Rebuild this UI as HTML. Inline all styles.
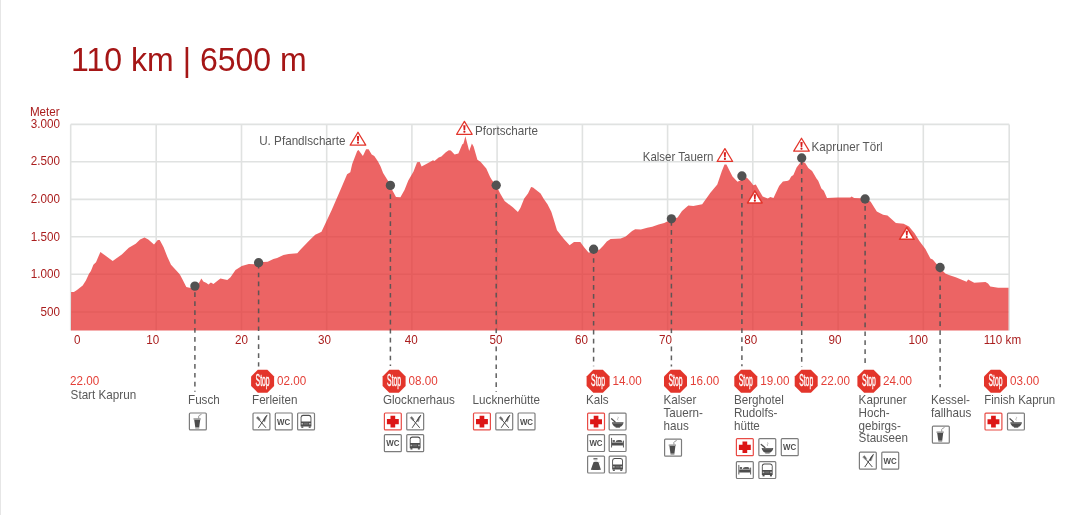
<!DOCTYPE html>
<html lang="de"><head><meta charset="utf-8"><title>110 km | 6500 m</title>
<style>html,body{margin:0;padding:0;background:#fff;}body{width:1080px;height:515px;overflow:hidden;position:relative;}svg{display:block;position:absolute;left:0;top:0;}text{font-family:"Liberation Sans", sans-serif;}</style></head><body>
<svg width="1080" height="515" viewBox="0 0 1080 515">
<rect x="0" y="0" width="1" height="515" fill="#e6e6e6"/>
<text transform="translate(71.10,71.00) scale(0.98,1)" font-size="32.7" fill="#a51616">110 km | 6500 m</text>
<text transform="translate(29.90,115.80) scale(0.95,1)" font-size="12.3" fill="#aa1e1e">Meter</text>
<text transform="translate(59.90,127.50) scale(0.95,1)" font-size="12.3" fill="#aa1e1e" text-anchor="end">3.000</text>
<text transform="translate(59.90,165.10) scale(0.95,1)" font-size="12.3" fill="#aa1e1e" text-anchor="end">2.500</text>
<text transform="translate(59.90,203.20) scale(0.95,1)" font-size="12.3" fill="#aa1e1e" text-anchor="end">2.000</text>
<text transform="translate(59.90,240.80) scale(0.95,1)" font-size="12.3" fill="#aa1e1e" text-anchor="end">1.500</text>
<text transform="translate(59.90,278.40) scale(0.95,1)" font-size="12.3" fill="#aa1e1e" text-anchor="end">1.000</text>
<text transform="translate(59.90,315.60) scale(0.95,1)" font-size="12.3" fill="#aa1e1e" text-anchor="end">500</text>
<g stroke="#e0e2e1" stroke-width="1.6" fill="none"><path d="M70.7 124.4H1009.2"/><path d="M70.7 161.8H1009.2"/><path d="M70.7 199.4H1009.2"/><path d="M70.7 236.8H1009.2"/><path d="M70.7 274.3H1009.2"/><path d="M70.7 312.0H1009.2"/><path d="M70.7 124.4V330.4"/><path d="M156.2 124.4V330.4"/><path d="M241.5 124.4V330.4"/><path d="M326.7 124.4V330.4"/><path d="M411.9 124.4V330.4"/><path d="M497.1 124.4V330.4"/><path d="M582.4 124.4V330.4"/><path d="M667.6 124.4V330.4"/><path d="M752.8 124.4V330.4"/><path d="M838.1 124.4V330.4"/><path d="M923.3 124.4V330.4"/><path d="M1009.2 124.4V330.4"/></g>
<path d="M71.0 330.4L71.1 292.0L73.9 292.0L77.0 290.0L82.7 285.4L85.9 280.5L89.0 273.7L90.9 271.0L93.4 264.7L96.0 262.2L100.4 251.9L112.7 261.0L121.8 254.6L128.8 247.7L135.7 243.7L140.1 239.5L144.5 237.4L148.3 239.5L154.0 244.6L157.8 239.9L159.7 239.9L163.5 247.1L167.2 256.5L171.0 264.7L178.6 273.0L180.0 274.7L182.4 279.3L186.3 287.0L190.7 287.9L194.9 286.5L198.9 282.9L201.4 278.5L203.3 281.6L206.5 282.9L208.4 284.4L210.9 282.6L213.4 283.9L220.4 278.5L227.3 280.1L230.5 277.2L235.5 270.0L241.8 265.9L248.8 264.0L254.4 264.2L258.6 262.9L263.3 262.1L267.7 261.7L273.4 258.9L277.1 257.9L283.5 254.9L288.5 253.9L297.3 253.2L300.1 250.0L309.5 240.3L315.2 234.8L319.0 232.9L321.5 231.7L331.6 210.2L340.4 190.0L347.1 174.2L350.3 172.3L352.2 164.1L357.2 150.9L358.5 149.9L362.9 155.9L366.1 149.2L368.6 149.2L371.7 154.6L374.3 155.9L378.0 161.6L380.6 166.6L383.1 172.9L388.1 181.1L390.4 185.4L392.2 190.0L396.0 197.0L400.4 197.2L404.5 190.0L408.3 180.5L413.4 171.7L417.1 162.2L419.7 162.0L421.6 166.4L427.2 163.5L431.7 161.0L433.0 160.2L434.5 161.0L438.7 157.4L441.4 156.6L445.8 152.2L448.8 150.2L450.8 150.6L454.6 154.4L458.4 153.5L462.2 144.6L463.5 143.4L465.4 136.2L469.2 151.0L471.9 143.4L473.6 146.5L477.4 159.8L480.5 161.7L483.7 165.5L486.3 168.4L490.1 177.0L491.9 180.0L496.2 185.5L500.2 193.4L504.6 201.0L512.8 207.3L517.9 212.0L520.4 207.9L524.2 198.5L528.0 193.4L531.1 187.1L533.0 187.5L540.6 193.4L543.8 199.1L547.5 204.2L551.3 211.7L553.2 217.7L557.0 230.3L563.9 239.1L569.6 245.2L574.0 242.0L580.3 242.0L584.1 247.3L588.5 252.4L592.0 252.3L599.3 249.8L603.0 246.1L606.8 241.6L610.6 239.1L620.7 238.5L625.7 236.6L632.1 230.9L635.2 229.3L640.9 229.6L647.2 227.8L652.2 226.7L658.6 224.6L664.2 223.0L671.4 219.5L677.6 217.4L682.0 211.1L688.3 205.4L693.3 206.1L702.2 204.2L710.4 192.8L717.3 184.6L721.7 171.4L724.5 164.4L726.4 164.4L732.5 176.4L737.5 181.7L740.0 180.5L743.5 177.0L747.0 177.7L750.7 181.7L753.3 185.2L755.8 184.6L758.3 189.0L762.7 196.6L767.8 198.5L770.3 197.0L773.5 197.9L779.1 185.9L782.9 181.4L788.0 180.8L789.4 179.8L791.2 176.5L793.4 175.0L796.6 167.4L800.8 162.0L802.5 161.7L805.2 163.1L808.3 167.9L812.1 171.0L816.5 178.6L818.2 180.7L821.4 188.4L823.8 190.8L827.0 198.0L837.7 197.5L850.3 197.5L851.6 196.4L854.1 198.1L860.4 198.3L865.1 199.3L870.5 201.5L876.8 211.6L883.1 214.7L887.5 215.6L895.9 222.9L903.6 223.7L909.0 226.5L914.4 233.1L919.4 241.0L925.4 249.1L930.4 258.5L932.7 259.6L940.1 268.0L945.3 273.5L948.9 274.9L955.7 277.2L966.6 281.7L968.1 279.6L974.2 282.8L985.5 282.1L988.0 283.4L990.3 286.5L998.1 287.8L1008.5 287.8L1008.5 330.4Z" fill="rgba(230,48,48,0.75)"/>
<path d="M194.9 283.3V391.8" stroke="#525252" stroke-width="1.5" stroke-dasharray="4.7 4.26" fill="none" opacity="0.92"/>
<circle cx="194.9" cy="286.1" r="4.65" fill="#525252"/>
<path d="M258.6 263.7V366.4" stroke="#525252" stroke-width="1.5" stroke-dasharray="4.7 4.26" fill="none" opacity="0.92"/>
<circle cx="258.6" cy="262.7" r="4.65" fill="#525252"/>
<path d="M390.4 185.4V366.0" stroke="#525252" stroke-width="1.5" stroke-dasharray="4.7 4.26" fill="none" opacity="0.92"/>
<circle cx="390.4" cy="185.4" r="4.65" fill="#525252"/>
<path d="M496.2 185.2V391.9" stroke="#525252" stroke-width="1.5" stroke-dasharray="4.7 4.26" fill="none" opacity="0.92"/>
<circle cx="496.2" cy="185.2" r="4.65" fill="#525252"/>
<path d="M593.6 249.2V366.2" stroke="#525252" stroke-width="1.5" stroke-dasharray="4.7 4.26" fill="none" opacity="0.92"/>
<circle cx="593.6" cy="249.2" r="4.65" fill="#525252"/>
<path d="M671.4 221.1V366.5" stroke="#525252" stroke-width="1.5" stroke-dasharray="4.7 4.26" fill="none" opacity="0.92"/>
<circle cx="671.4" cy="218.8" r="4.65" fill="#525252"/>
<path d="M741.9 176.0V366.2" stroke="#525252" stroke-width="1.5" stroke-dasharray="4.7 4.26" fill="none" opacity="0.92"/>
<circle cx="741.9" cy="176.0" r="4.65" fill="#525252"/>
<path d="M801.7 160.0V366.4" stroke="#525252" stroke-width="1.5" stroke-dasharray="4.7 4.26" fill="none" opacity="0.92"/>
<circle cx="801.7" cy="158.0" r="4.65" fill="#525252"/>
<path d="M865.1 197.0V366.4" stroke="#525252" stroke-width="1.5" stroke-dasharray="4.7 4.26" fill="none" opacity="0.92"/>
<circle cx="865.1" cy="199.0" r="4.65" fill="#525252"/>
<path d="M940.1 267.5V387.3" stroke="#525252" stroke-width="1.5" stroke-dasharray="4.7 4.26" fill="none" opacity="0.92"/>
<circle cx="940.1" cy="267.5" r="4.65" fill="#525252"/>
<text transform="translate(73.90,343.50) scale(0.95,1)" font-size="12.3" fill="#aa1e1e">0</text>
<text transform="translate(146.30,343.50) scale(0.95,1)" font-size="12.3" fill="#aa1e1e">10</text>
<text transform="translate(235.10,343.50) scale(0.95,1)" font-size="12.3" fill="#aa1e1e">20</text>
<text transform="translate(318.10,343.50) scale(0.95,1)" font-size="12.3" fill="#aa1e1e">30</text>
<text transform="translate(404.80,343.50) scale(0.95,1)" font-size="12.3" fill="#aa1e1e">40</text>
<rect x="489.1" y="333.5" width="14.5" height="12" fill="#fff"/>
<text transform="translate(489.60,343.50) scale(0.95,1)" font-size="12.3" fill="#aa1e1e">50</text>
<text transform="translate(574.90,343.50) scale(0.95,1)" font-size="12.3" fill="#aa1e1e">60</text>
<rect x="658.5" y="333.5" width="14.5" height="12" fill="#fff"/>
<text transform="translate(659.00,343.50) scale(0.95,1)" font-size="12.3" fill="#aa1e1e">70</text>
<text transform="translate(744.30,343.50) scale(0.95,1)" font-size="12.3" fill="#aa1e1e">80</text>
<text transform="translate(828.50,343.50) scale(0.95,1)" font-size="12.3" fill="#aa1e1e">90</text>
<text transform="translate(908.40,343.50) scale(0.95,1)" font-size="12.3" fill="#aa1e1e">100</text>
<text transform="translate(983.70,343.50) scale(0.95,1)" font-size="12.3" fill="#aa1e1e">110 km</text>
<path d="M358.00 132.28L365.77 145.18H350.23Z" fill="#fff" stroke="#e3352b" stroke-width="1.25" stroke-linejoin="round"/><path d="M356.85 136.07h2.3l-0.4 4.97h-1.5z" fill="#d81e1e"/><circle cx="358.00" cy="142.66" r="1.1" fill="#d41616"/>
<path d="M464.40 121.38L472.17 134.28H456.62Z" fill="#fff" stroke="#e3352b" stroke-width="1.25" stroke-linejoin="round"/><path d="M463.25 125.17h2.3l-0.4 4.97h-1.5z" fill="#d81e1e"/><circle cx="464.40" cy="131.76" r="1.1" fill="#d41616"/>
<path d="M724.90 148.57L732.67 161.47H717.12Z" fill="#fff" stroke="#e3352b" stroke-width="1.25" stroke-linejoin="round"/><path d="M723.75 152.37h2.3l-0.4 4.97h-1.5z" fill="#d81e1e"/><circle cx="724.90" cy="158.96" r="1.1" fill="#d41616"/>
<path d="M801.50 138.28L809.27 151.18H793.73Z" fill="#fff" stroke="#e3352b" stroke-width="1.25" stroke-linejoin="round"/><path d="M800.35 142.07h2.3l-0.4 4.97h-1.5z" fill="#d81e1e"/><circle cx="801.50" cy="148.66" r="1.1" fill="#d41616"/>
<path d="M754.85 190.90L762.15 202.95H747.55Z" fill="#fff" stroke="#e3352b" stroke-width="1.5" stroke-linejoin="round"/><path d="M753.70 194.37h2.3l-0.4 4.76h-1.5z" fill="#d81e1e"/><circle cx="754.85" cy="200.69" r="1.1" fill="#d41616"/>
<path d="M906.80 227.30L914.10 239.35H899.50Z" fill="#fff" stroke="#e3352b" stroke-width="1.5" stroke-linejoin="round"/><path d="M905.65 230.77h2.3l-0.4 4.76h-1.5z" fill="#d81e1e"/><circle cx="906.80" cy="237.09" r="1.1" fill="#d41616"/>
<text transform="translate(345.50,144.60) scale(0.95,1)" font-size="12.3" fill="#585858" text-anchor="end">U. Pfandlscharte</text>
<text transform="translate(475.00,135.20) scale(0.95,1)" font-size="12.3" fill="#585858">Pfortscharte</text>
<text transform="translate(713.40,161.40) scale(0.935,1)" font-size="12.3" fill="#585858" text-anchor="end">Kalser Tauern</text>
<text transform="translate(811.50,150.80) scale(0.95,1)" font-size="12.3" fill="#585858">Kapruner Törl</text>
<text transform="translate(70.10,384.80) scale(0.95,1)" font-size="12.3" fill="#e43f37">22.00</text>
<text transform="translate(70.60,398.50) scale(0.95,1)" font-size="12.3" fill="#585858">Start Kaprun</text>
<text transform="translate(188.00,404.00) scale(0.95,1)" font-size="12.3" fill="#585858">Fusch</text>
<rect x="189.40" y="413.00" width="16.9" height="16.9" rx="0.9" fill="#fff" stroke="#7c7c7c" stroke-width="1.2"/><g transform="translate(188.80,412.40)"><rect x="4.7" y="5.9" width="7.3" height="1.3" fill="#8a8a8a"/><path d="M5.4 7.3H11.4L10.4 15.1H6.5Z" fill="#4d4d4d"/><rect x="6.5" y="15.1" width="3.9" height="1.1" fill="#9a9a9a"/><path d="M9.9 6.0V3.8Q10.0 3.0 12.7 1.9" stroke="#7a7a7a" stroke-width="0.8" fill="none"/></g>
<polygon points="257.84,369.70 267.36,369.70 274.10,376.44 274.10,385.96 267.36,392.70 257.84,392.70 251.10,385.96 251.10,376.44" fill="#e3352b"/><text x="262.60" y="386.20" text-anchor="middle" font-family='"Liberation Sans", sans-serif' font-size="16.2" fill="#fff" stroke="#fff" stroke-width="0.4" textLength="14" lengthAdjust="spacingAndGlyphs">Stop</text>
<text transform="translate(277.10,384.80) scale(0.95,1)" font-size="12.3" fill="#e43f37">02.00</text>
<text transform="translate(252.00,404.00) scale(0.95,1)" font-size="12.3" fill="#585858">Ferleiten</text>
<rect x="253.00" y="413.00" width="16.9" height="16.9" rx="0.9" fill="#fff" stroke="#7c7c7c" stroke-width="1.2"/><g transform="translate(252.40,412.40)" stroke="#4d4d4d" fill="none" stroke-linecap="round"><path d="M5.6 6.0L13.3 15.1" stroke-width="1.0"/><path d="M14.3 3.2L6.2 15.1" stroke-width="1.0"/><path d="M14.5 2.9C12.6 4.4 11.2 6.6 10.9 8.7L12.0 9.2Z" fill="#4d4d4d" stroke-width="0.4"/><path d="M4.0 5.4L5.6 4.0L7.9 6.9L6.9 8.0Z" fill="#6a6a6a" stroke="#6a6a6a" stroke-width="0.3"/></g>
<rect x="275.30" y="413.00" width="16.9" height="16.9" rx="0.9" fill="#fff" stroke="#7c7c7c" stroke-width="1.2"/><text x="283.70" y="424.50" text-anchor="middle" font-family='"Liberation Sans", sans-serif' font-weight="700" font-size="8.3" fill="#4d4d4d" textLength="13.2" lengthAdjust="spacingAndGlyphs">WC</text>
<rect x="297.60" y="413.00" width="16.9" height="16.9" rx="0.9" fill="#fff" stroke="#7c7c7c" stroke-width="1.2"/><g transform="translate(297.00,412.40)"><path d="M3.6 5.0Q3.6 2.7 5.9 2.4L12.1 2.4Q14.4 2.7 14.4 5.0V14.1H3.6Z" fill="#4d4d4d"/><path d="M4.5 5.3Q4.5 3.6 6.2 3.6H11.8Q13.5 3.6 13.5 5.3V9.0H4.5Z" fill="#fff"/><rect x="4.4" y="10.6" width="1.7" height="1.5" fill="#b4b4b4"/><rect x="11.9" y="10.6" width="1.7" height="1.5" fill="#b4b4b4"/><rect x="6.9" y="10.3" width="4.2" height="2.0" fill="#6c6c6c"/><rect x="4.3" y="14.0" width="2.0" height="1.4" fill="#4d4d4d"/><rect x="11.7" y="14.0" width="2.0" height="1.4" fill="#4d4d4d"/></g>
<polygon points="389.34,369.70 398.86,369.70 405.60,376.44 405.60,385.96 398.86,392.70 389.34,392.70 382.60,385.96 382.60,376.44" fill="#e3352b"/><text x="394.10" y="386.20" text-anchor="middle" font-family='"Liberation Sans", sans-serif' font-size="16.2" fill="#fff" stroke="#fff" stroke-width="0.4" textLength="14" lengthAdjust="spacingAndGlyphs">Stop</text>
<text transform="translate(408.60,384.80) scale(0.95,1)" font-size="12.3" fill="#e43f37">08.00</text>
<text transform="translate(382.90,404.00) scale(0.95,1)" font-size="12.3" fill="#585858">Glocknerhaus</text>
<rect x="384.40" y="413.00" width="16.9" height="16.9" rx="0.9" fill="#fff" stroke="#e84b45" stroke-width="1.2"/><path transform="translate(383.80,412.40)" d="M6.7 3.3h4.7v3.4h3.6v5.1h-3.6v3.2h-4.7v-3.2h-3.6v-5.1h3.6z" fill="#dc1616"/>
<rect x="406.75" y="413.00" width="16.9" height="16.9" rx="0.9" fill="#fff" stroke="#7c7c7c" stroke-width="1.2"/><g transform="translate(406.15,412.40)" stroke="#4d4d4d" fill="none" stroke-linecap="round"><path d="M5.6 6.0L13.3 15.1" stroke-width="1.0"/><path d="M14.3 3.2L6.2 15.1" stroke-width="1.0"/><path d="M14.5 2.9C12.6 4.4 11.2 6.6 10.9 8.7L12.0 9.2Z" fill="#4d4d4d" stroke-width="0.4"/><path d="M4.0 5.4L5.6 4.0L7.9 6.9L6.9 8.0Z" fill="#6a6a6a" stroke="#6a6a6a" stroke-width="0.3"/></g>
<rect x="384.40" y="434.70" width="16.9" height="16.9" rx="0.9" fill="#fff" stroke="#7c7c7c" stroke-width="1.2"/><text x="392.80" y="446.20" text-anchor="middle" font-family='"Liberation Sans", sans-serif' font-weight="700" font-size="8.3" fill="#4d4d4d" textLength="13.2" lengthAdjust="spacingAndGlyphs">WC</text>
<rect x="406.75" y="434.70" width="16.9" height="16.9" rx="0.9" fill="#fff" stroke="#7c7c7c" stroke-width="1.2"/><g transform="translate(406.15,434.10)"><path d="M3.6 5.0Q3.6 2.7 5.9 2.4L12.1 2.4Q14.4 2.7 14.4 5.0V14.1H3.6Z" fill="#4d4d4d"/><path d="M4.5 5.3Q4.5 3.6 6.2 3.6H11.8Q13.5 3.6 13.5 5.3V9.0H4.5Z" fill="#fff"/><rect x="4.4" y="10.6" width="1.7" height="1.5" fill="#b4b4b4"/><rect x="11.9" y="10.6" width="1.7" height="1.5" fill="#b4b4b4"/><rect x="6.9" y="10.3" width="4.2" height="2.0" fill="#6c6c6c"/><rect x="4.3" y="14.0" width="2.0" height="1.4" fill="#4d4d4d"/><rect x="11.7" y="14.0" width="2.0" height="1.4" fill="#4d4d4d"/></g>
<text transform="translate(472.60,404.00) scale(0.95,1)" font-size="12.3" fill="#585858">Lucknerhütte</text>
<rect x="473.50" y="413.00" width="16.9" height="16.9" rx="0.9" fill="#fff" stroke="#e84b45" stroke-width="1.2"/><path transform="translate(472.90,412.40)" d="M6.7 3.3h4.7v3.4h3.6v5.1h-3.6v3.2h-4.7v-3.2h-3.6v-5.1h3.6z" fill="#dc1616"/>
<rect x="495.80" y="413.00" width="16.9" height="16.9" rx="0.9" fill="#fff" stroke="#7c7c7c" stroke-width="1.2"/><g transform="translate(495.20,412.40)" stroke="#4d4d4d" fill="none" stroke-linecap="round"><path d="M5.6 6.0L13.3 15.1" stroke-width="1.0"/><path d="M14.3 3.2L6.2 15.1" stroke-width="1.0"/><path d="M14.5 2.9C12.6 4.4 11.2 6.6 10.9 8.7L12.0 9.2Z" fill="#4d4d4d" stroke-width="0.4"/><path d="M4.0 5.4L5.6 4.0L7.9 6.9L6.9 8.0Z" fill="#6a6a6a" stroke="#6a6a6a" stroke-width="0.3"/></g>
<rect x="518.10" y="413.00" width="16.9" height="16.9" rx="0.9" fill="#fff" stroke="#7c7c7c" stroke-width="1.2"/><text x="526.50" y="424.50" text-anchor="middle" font-family='"Liberation Sans", sans-serif' font-weight="700" font-size="8.3" fill="#4d4d4d" textLength="13.2" lengthAdjust="spacingAndGlyphs">WC</text>
<polygon points="593.34,369.70 602.86,369.70 609.60,376.44 609.60,385.96 602.86,392.70 593.34,392.70 586.60,385.96 586.60,376.44" fill="#e3352b"/><text x="598.10" y="386.20" text-anchor="middle" font-family='"Liberation Sans", sans-serif' font-size="16.2" fill="#fff" stroke="#fff" stroke-width="0.4" textLength="14" lengthAdjust="spacingAndGlyphs">Stop</text>
<text transform="translate(612.60,384.80) scale(0.95,1)" font-size="12.3" fill="#e43f37">14.00</text>
<text transform="translate(586.00,404.00) scale(0.95,1)" font-size="12.3" fill="#585858">Kals</text>
<rect x="587.60" y="413.10" width="16.9" height="16.9" rx="0.9" fill="#fff" stroke="#e84b45" stroke-width="1.2"/><path transform="translate(587.00,412.50)" d="M6.7 3.3h4.7v3.4h3.6v5.1h-3.6v3.2h-4.7v-3.2h-3.6v-5.1h3.6z" fill="#dc1616"/>
<rect x="609.15" y="413.10" width="16.9" height="16.9" rx="0.9" fill="#fff" stroke="#7c7c7c" stroke-width="1.2"/><g transform="translate(608.55,412.50)"><path d="M3.4 9.8H15.0Q14.6 13.6 11.0 14.6H7.4Q3.8 13.6 3.4 9.8Z" fill="#4d4d4d"/><rect x="7.0" y="14.6" width="4.4" height="0.9" fill="#7a7a7a"/><path d="M4.3 10.7H14.1" stroke="#9a9a9a" stroke-width="0.6"/><path d="M3.0 6.3L6.6 9.4" stroke="#4d4d4d" stroke-width="1.3" stroke-linecap="round"/><path d="M9.3 4.3q0.9 0.9 0 1.7q-0.8 0.8 0.2 1.8" stroke="#8a8a8a" stroke-width="0.6" fill="none"/></g>
<rect x="587.60" y="434.60" width="16.9" height="16.9" rx="0.9" fill="#fff" stroke="#7c7c7c" stroke-width="1.2"/><text x="596.00" y="446.10" text-anchor="middle" font-family='"Liberation Sans", sans-serif' font-weight="700" font-size="8.3" fill="#4d4d4d" textLength="13.2" lengthAdjust="spacingAndGlyphs">WC</text>
<rect x="609.15" y="434.60" width="16.9" height="16.9" rx="0.9" fill="#fff" stroke="#7c7c7c" stroke-width="1.2"/><g transform="translate(608.55,434.00)" fill="#4d4d4d"><rect x="2.6" y="3.9" width="0.9" height="9.6"/><rect x="14.4" y="6.6" width="0.9" height="6.9"/><rect x="3.4" y="9.0" width="11.0" height="2.5"/><rect x="3.5" y="8.0" width="10.9" height="1.0" fill="#9a9a9a"/><rect x="4.0" y="6.0" width="2.3" height="2.0" fill="#666"/><path d="M7.0 8.1Q7.2 5.9 9.6 5.9H12.2Q13.7 6.2 13.9 8.1Z" fill="#5c5c5c"/></g>
<rect x="587.60" y="456.10" width="16.9" height="16.9" rx="0.9" fill="#fff" stroke="#7c7c7c" stroke-width="1.2"/><g transform="translate(587.00,455.50)"><rect x="6.3" y="2.6" width="4.3" height="1.5" rx="0.6" fill="#6e6e6e"/><path d="M6.6 6.5Q9.0 6.1 11.4 6.5L13.9 14.2Q9.0 15.0 3.8 14.2Z" fill="#4d4d4d"/><path d="M7.4 5.3H10.2" stroke="#bbb" stroke-width="0.6"/><rect x="11.6" y="6.3" width="0.9" height="1.0" fill="#aaa"/></g>
<rect x="609.15" y="456.10" width="16.9" height="16.9" rx="0.9" fill="#fff" stroke="#7c7c7c" stroke-width="1.2"/><g transform="translate(608.55,455.50)"><path d="M3.6 5.0Q3.6 2.7 5.9 2.4L12.1 2.4Q14.4 2.7 14.4 5.0V14.1H3.6Z" fill="#4d4d4d"/><path d="M4.5 5.3Q4.5 3.6 6.2 3.6H11.8Q13.5 3.6 13.5 5.3V9.0H4.5Z" fill="#fff"/><rect x="4.4" y="10.6" width="1.7" height="1.5" fill="#b4b4b4"/><rect x="11.9" y="10.6" width="1.7" height="1.5" fill="#b4b4b4"/><rect x="6.9" y="10.3" width="4.2" height="2.0" fill="#6c6c6c"/><rect x="4.3" y="14.0" width="2.0" height="1.4" fill="#4d4d4d"/><rect x="11.7" y="14.0" width="2.0" height="1.4" fill="#4d4d4d"/></g>
<polygon points="670.74,369.70 680.26,369.70 687.00,376.44 687.00,385.96 680.26,392.70 670.74,392.70 664.00,385.96 664.00,376.44" fill="#e3352b"/><text x="675.50" y="386.20" text-anchor="middle" font-family='"Liberation Sans", sans-serif' font-size="16.2" fill="#fff" stroke="#fff" stroke-width="0.4" textLength="14" lengthAdjust="spacingAndGlyphs">Stop</text>
<text transform="translate(690.00,384.80) scale(0.95,1)" font-size="12.3" fill="#e43f37">16.00</text>
<text transform="translate(663.40,404.00) scale(0.95,1)" font-size="12.3" fill="#585858">Kalser</text>
<text transform="translate(663.40,417.40) scale(0.95,1)" font-size="12.3" fill="#585858">Tauern-</text>
<text transform="translate(663.40,429.80) scale(0.95,1)" font-size="12.3" fill="#585858">haus</text>
<rect x="664.60" y="439.20" width="16.9" height="16.9" rx="0.9" fill="#fff" stroke="#7c7c7c" stroke-width="1.2"/><g transform="translate(664.00,438.60)"><rect x="4.7" y="5.9" width="7.3" height="1.3" fill="#8a8a8a"/><path d="M5.4 7.3H11.4L10.4 15.1H6.5Z" fill="#4d4d4d"/><rect x="6.5" y="15.1" width="3.9" height="1.1" fill="#9a9a9a"/><path d="M9.9 6.0V3.8Q10.0 3.0 12.7 1.9" stroke="#7a7a7a" stroke-width="0.8" fill="none"/></g>
<polygon points="741.04,369.70 750.56,369.70 757.30,376.44 757.30,385.96 750.56,392.70 741.04,392.70 734.30,385.96 734.30,376.44" fill="#e3352b"/><text x="745.80" y="386.20" text-anchor="middle" font-family='"Liberation Sans", sans-serif' font-size="16.2" fill="#fff" stroke="#fff" stroke-width="0.4" textLength="14" lengthAdjust="spacingAndGlyphs">Stop</text>
<text transform="translate(760.30,384.80) scale(0.95,1)" font-size="12.3" fill="#e43f37">19.00</text>
<text transform="translate(733.90,404.00) scale(0.95,1)" font-size="12.3" fill="#585858">Berghotel</text>
<text transform="translate(733.90,417.40) scale(0.95,1)" font-size="12.3" fill="#585858">Rudolfs-</text>
<text transform="translate(733.90,429.80) scale(0.95,1)" font-size="12.3" fill="#585858">hütte</text>
<rect x="736.40" y="438.70" width="16.9" height="16.9" rx="0.9" fill="#fff" stroke="#e84b45" stroke-width="1.2"/><path transform="translate(735.80,438.10)" d="M6.7 3.3h4.7v3.4h3.6v5.1h-3.6v3.2h-4.7v-3.2h-3.6v-5.1h3.6z" fill="#dc1616"/>
<rect x="758.85" y="438.70" width="16.9" height="16.9" rx="0.9" fill="#fff" stroke="#7c7c7c" stroke-width="1.2"/><g transform="translate(758.25,438.10)"><path d="M3.4 9.8H15.0Q14.6 13.6 11.0 14.6H7.4Q3.8 13.6 3.4 9.8Z" fill="#4d4d4d"/><rect x="7.0" y="14.6" width="4.4" height="0.9" fill="#7a7a7a"/><path d="M4.3 10.7H14.1" stroke="#9a9a9a" stroke-width="0.6"/><path d="M3.0 6.3L6.6 9.4" stroke="#4d4d4d" stroke-width="1.3" stroke-linecap="round"/><path d="M9.3 4.3q0.9 0.9 0 1.7q-0.8 0.8 0.2 1.8" stroke="#8a8a8a" stroke-width="0.6" fill="none"/></g>
<rect x="781.30" y="438.70" width="16.9" height="16.9" rx="0.9" fill="#fff" stroke="#7c7c7c" stroke-width="1.2"/><text x="789.70" y="450.20" text-anchor="middle" font-family='"Liberation Sans", sans-serif' font-weight="700" font-size="8.3" fill="#4d4d4d" textLength="13.2" lengthAdjust="spacingAndGlyphs">WC</text>
<rect x="736.40" y="461.60" width="16.9" height="16.9" rx="0.9" fill="#fff" stroke="#7c7c7c" stroke-width="1.2"/><g transform="translate(735.80,461.00)" fill="#4d4d4d"><rect x="2.6" y="3.9" width="0.9" height="9.6"/><rect x="14.4" y="6.6" width="0.9" height="6.9"/><rect x="3.4" y="9.0" width="11.0" height="2.5"/><rect x="3.5" y="8.0" width="10.9" height="1.0" fill="#9a9a9a"/><rect x="4.0" y="6.0" width="2.3" height="2.0" fill="#666"/><path d="M7.0 8.1Q7.2 5.9 9.6 5.9H12.2Q13.7 6.2 13.9 8.1Z" fill="#5c5c5c"/></g>
<rect x="758.85" y="461.60" width="16.9" height="16.9" rx="0.9" fill="#fff" stroke="#7c7c7c" stroke-width="1.2"/><g transform="translate(758.25,461.00)"><path d="M3.6 5.0Q3.6 2.7 5.9 2.4L12.1 2.4Q14.4 2.7 14.4 5.0V14.1H3.6Z" fill="#4d4d4d"/><path d="M4.5 5.3Q4.5 3.6 6.2 3.6H11.8Q13.5 3.6 13.5 5.3V9.0H4.5Z" fill="#fff"/><rect x="4.4" y="10.6" width="1.7" height="1.5" fill="#b4b4b4"/><rect x="11.9" y="10.6" width="1.7" height="1.5" fill="#b4b4b4"/><rect x="6.9" y="10.3" width="4.2" height="2.0" fill="#6c6c6c"/><rect x="4.3" y="14.0" width="2.0" height="1.4" fill="#4d4d4d"/><rect x="11.7" y="14.0" width="2.0" height="1.4" fill="#4d4d4d"/></g>
<polygon points="801.44,369.70 810.96,369.70 817.70,376.44 817.70,385.96 810.96,392.70 801.44,392.70 794.70,385.96 794.70,376.44" fill="#e3352b"/><text x="806.20" y="386.20" text-anchor="middle" font-family='"Liberation Sans", sans-serif' font-size="16.2" fill="#fff" stroke="#fff" stroke-width="0.4" textLength="14" lengthAdjust="spacingAndGlyphs">Stop</text>
<text transform="translate(820.70,384.80) scale(0.95,1)" font-size="12.3" fill="#e43f37">22.00</text>
<polygon points="864.14,369.70 873.66,369.70 880.40,376.44 880.40,385.96 873.66,392.70 864.14,392.70 857.40,385.96 857.40,376.44" fill="#e3352b"/><text x="868.90" y="386.20" text-anchor="middle" font-family='"Liberation Sans", sans-serif' font-size="16.2" fill="#fff" stroke="#fff" stroke-width="0.4" textLength="14" lengthAdjust="spacingAndGlyphs">Stop</text>
<text transform="translate(882.90,384.80) scale(0.95,1)" font-size="12.3" fill="#e43f37">24.00</text>
<text transform="translate(858.60,404.00) scale(0.95,1)" font-size="12.3" fill="#585858">Kapruner</text>
<text transform="translate(858.60,417.40) scale(0.95,1)" font-size="12.3" fill="#585858">Hoch-</text>
<text transform="translate(858.60,429.80) scale(0.95,1)" font-size="12.3" fill="#585858">gebirgs-</text>
<text transform="translate(858.60,442.40) scale(0.95,1)" font-size="12.3" fill="#585858">Stauseen</text>
<rect x="859.40" y="452.20" width="16.9" height="16.9" rx="0.9" fill="#fff" stroke="#7c7c7c" stroke-width="1.2"/><g transform="translate(858.80,451.60)" stroke="#4d4d4d" fill="none" stroke-linecap="round"><path d="M5.6 6.0L13.3 15.1" stroke-width="1.0"/><path d="M14.3 3.2L6.2 15.1" stroke-width="1.0"/><path d="M14.5 2.9C12.6 4.4 11.2 6.6 10.9 8.7L12.0 9.2Z" fill="#4d4d4d" stroke-width="0.4"/><path d="M4.0 5.4L5.6 4.0L7.9 6.9L6.9 8.0Z" fill="#6a6a6a" stroke="#6a6a6a" stroke-width="0.3"/></g>
<rect x="881.80" y="452.20" width="16.9" height="16.9" rx="0.9" fill="#fff" stroke="#7c7c7c" stroke-width="1.2"/><text x="890.20" y="463.70" text-anchor="middle" font-family='"Liberation Sans", sans-serif' font-weight="700" font-size="8.3" fill="#4d4d4d" textLength="13.2" lengthAdjust="spacingAndGlyphs">WC</text>
<text transform="translate(931.00,404.00) scale(0.95,1)" font-size="12.3" fill="#585858">Kessel-</text>
<text transform="translate(931.00,417.40) scale(0.95,1)" font-size="12.3" fill="#585858">fallhaus</text>
<rect x="932.40" y="426.20" width="16.9" height="16.9" rx="0.9" fill="#fff" stroke="#7c7c7c" stroke-width="1.2"/><g transform="translate(931.80,425.60)"><rect x="4.7" y="5.9" width="7.3" height="1.3" fill="#8a8a8a"/><path d="M5.4 7.3H11.4L10.4 15.1H6.5Z" fill="#4d4d4d"/><rect x="6.5" y="15.1" width="3.9" height="1.1" fill="#9a9a9a"/><path d="M9.9 6.0V3.8Q10.0 3.0 12.7 1.9" stroke="#7a7a7a" stroke-width="0.8" fill="none"/></g>
<polygon points="990.74,369.70 1000.26,369.70 1007.00,376.44 1007.00,385.96 1000.26,392.70 990.74,392.70 984.00,385.96 984.00,376.44" fill="#e3352b"/><text x="995.50" y="386.20" text-anchor="middle" font-family='"Liberation Sans", sans-serif' font-size="16.2" fill="#fff" stroke="#fff" stroke-width="0.4" textLength="14" lengthAdjust="spacingAndGlyphs">Stop</text>
<text transform="translate(1010.00,384.80) scale(0.95,1)" font-size="12.3" fill="#e43f37">03.00</text>
<text transform="translate(984.30,404.00) scale(0.935,1)" font-size="12.3" fill="#585858">Finish Kaprun</text>
<rect x="985.00" y="413.10" width="16.9" height="16.9" rx="0.9" fill="#fff" stroke="#e84b45" stroke-width="1.2"/><path transform="translate(984.40,412.50)" d="M6.7 3.3h4.7v3.4h3.6v5.1h-3.6v3.2h-4.7v-3.2h-3.6v-5.1h3.6z" fill="#dc1616"/>
<rect x="1007.50" y="413.10" width="16.9" height="16.9" rx="0.9" fill="#fff" stroke="#7c7c7c" stroke-width="1.2"/><g transform="translate(1006.90,412.50)"><path d="M3.4 9.8H15.0Q14.6 13.6 11.0 14.6H7.4Q3.8 13.6 3.4 9.8Z" fill="#4d4d4d"/><rect x="7.0" y="14.6" width="4.4" height="0.9" fill="#7a7a7a"/><path d="M4.3 10.7H14.1" stroke="#9a9a9a" stroke-width="0.6"/><path d="M3.0 6.3L6.6 9.4" stroke="#4d4d4d" stroke-width="1.3" stroke-linecap="round"/><path d="M9.3 4.3q0.9 0.9 0 1.7q-0.8 0.8 0.2 1.8" stroke="#8a8a8a" stroke-width="0.6" fill="none"/></g>
</svg></body></html>
